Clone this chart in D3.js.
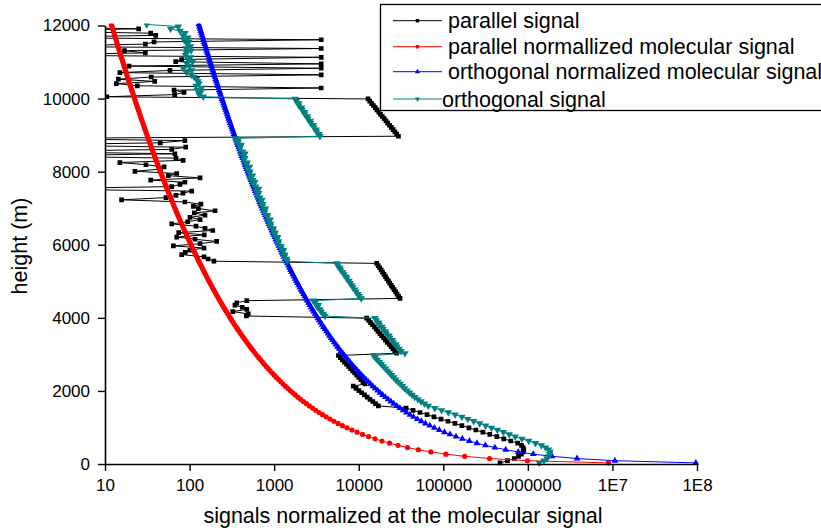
<!DOCTYPE html>
<html>
<head>
<meta charset="utf-8">
<script src="https://cdn.jsdelivr.net/npm/d3@7"></script>
<style>
  html, body { margin: 0; padding: 0; background: #ffffff; }
  svg { display: block; font-family: "Liberation Sans", Arial, Helvetica, sans-serif; }
</style>
</head>
<body>
<svg id="chart" width="821" height="532"></svg>
<script>
// Lidar range bins (m), 60 m resolution, 30 m .. 12030 m
const heights = d3.range(30, 12031, 60);

// Parallel channel, normalized at the molecular signal (bin order: low to high)
const parallelSignal = [
  468000, 575000, 692000, 776000, 841000, 881000, 895000, 881000, 841000, 758600,
  628100, 518800, 429500, 354800, 293800, 242700, 200900, 166000, 137400, 113500,
  94000, 77600, 64300, 53100, 43900, 36300,
  17060, 15810, 14660, 13580, 12590, 11700, 10840, 10050, 9310, 8630,
  11860, 11220, 10620, 10020, 9480, 8970, 8490, 8020, 7590, 7180, 6790, 6410, 6070, 5740,
  28100, 26700, 25400, 24200, 23000, 21800, 20700, 19700, 18700, 17800, 16900, 16100, 15300, 14500, 13800, 13100, 12400,
  470, 494, 324, 475, 420, 344, 361, 475,
  30800, 29600, 28400, 27400, 26200, 25200, 24300, 23300, 22400, 21500, 20700, 19900, 19100, 18400, 17700, 17000, 16300,
  194, 166, 148, 80.7, 89, 101, 148, 64.3, 133, 209,
  116, 70.5, 149, 74.3, 188, 152, 119, 61.5, 95, 133,
  101, 152, 114, 200, 127, 111, 136, 88, 15.7, 52.6,
  69, 83.6, 106, 1, 61.5, 77, 88, 34.7, 133, 56,
  70.5, 22.6, 45, 50, 30.5, 15, 84, 69, 1, 67,
  1, 61.5, 90, 1, 45, 88, 1,
  29500, 28100, 26800, 25500, 24300, 23100, 22000, 21000, 20000, 19000, 18100, 17300, 16400, 15700, 14900, 14200, 13500, 12900,
  10.5, 66.7, 86, 65.5, 3600, 24.1, 13.6, 38.7, 14.4, 35.2,
  3600, 15, 58.7, 3600, 19.2, 3600, 68.5, 80.7, 3600, 1,
  30, 17, 3600, 1, 30, 38, 3600, 1, 39.8, 34.7,
  1, 25, 1, 1
];

// Parallel normalized molecular signal
const parallelMolecular = [
  8.97e6, 9.88e5, 3.53e5, 1.788e5, 1.073e5, 71300, 50700, 37750, 29160, 23170,
  18820, 15570, 13070, 11120, 9570, 8310, 7275, 6420, 5699, 5091,
  4570, 4123, 3736, 3398, 3102, 2842, 2611, 2406, 2223, 2059,
  1911, 1778, 1658, 1548, 1448, 1357, 1274, 1198, 1128, 1063,
  1003, 948.3, 897.4, 849.9, 805.8, 765.0, 726.8, 691.2, 657.9, 626.7,
  597.5, 570.1, 544.4, 520.2, 497.4, 475.9, 455.7, 436.5, 418.5, 401.4,
  385.3, 370.0, 355.5, 341.8, 328.7, 316.3, 304.5, 293.3, 282.6, 272.4,
  262.7, 253.4, 244.5, 236.1, 228.0, 220.3, 212.9, 205.9, 199.2, 192.7,
  186.5, 180.6, 174.9, 169.3, 164.1, 159.0, 154.2, 149.5, 145.0, 140.7,
  136.6, 132.6, 128.7, 125.0, 121.5, 118.0, 114.7, 111.5, 108.4, 105.4,
  102.5, 99.74, 97.06, 94.46, 91.94, 89.51, 87.16, 84.89, 82.69, 80.56,
  78.50, 76.50, 74.57, 72.70, 70.89, 69.13, 67.43, 65.78, 64.18, 62.62,
  61.11, 59.65, 58.23, 56.85, 55.51, 54.21, 52.94, 51.71, 50.52, 49.36,
  48.23, 47.13, 46.07, 45.03, 44.02, 43.04, 42.09, 41.16, 40.25, 39.37,
  38.52, 37.68, 36.87, 36.08, 35.31, 34.56, 33.83, 33.11, 32.42, 31.74,
  31.08, 30.43, 29.81, 29.19, 28.59, 28.01, 27.44, 26.88, 26.34, 25.81,
  25.29, 24.79, 24.30, 23.82, 23.35, 22.89, 22.44, 22.00, 21.58, 21.16,
  20.75, 20.35, 19.96, 19.58, 19.20, 18.84, 18.48, 18.14, 17.80, 17.46,
  17.14, 16.82, 16.51, 16.20, 15.90, 15.61, 15.32, 15.05, 14.77, 14.50,
  14.24, 13.99, 13.73, 13.49, 13.25, 13.01, 12.78, 12.56, 12.33, 12.12,
  11.90
];

// Orthogonal normalized molecular signal
const orthogonalMolecular = [
  9.68e7, 1.068e7, 3.814e6, 1.931e6, 1.159e6, 7.70e5, 5.47e5, 4.077e5, 3.150e5, 2.502e5,
  2.033e5, 1.681e5, 1.412e5, 1.201e5, 1.033e5, 89740, 78580, 69320, 61550, 54970,
  49350, 44530, 40350, 36690, 33500, 30690, 28200, 25980, 24010, 22240,
  20640, 19200, 17900, 16720, 15640, 14660, 13760, 12940, 12180, 11480,
  10830, 10240, 9689, 9178, 8702, 8261, 7849, 7464, 7105, 6768,
  6452, 6156, 5878, 5617, 5371, 5139, 4920, 4714, 4519, 4335,
  4160, 3995, 3839, 3690, 3549, 3415, 3288, 3167, 3051, 2941,
  2836, 2736, 2641, 2550, 2463, 2379, 2300, 2224, 2151, 2081,
  2014, 1950, 1888, 1829, 1772, 1718, 1665, 1615, 1566, 1520,
  1475, 1432, 1390, 1350, 1312, 1274, 1238, 1204, 1171, 1138,
  1107, 1077, 1048, 1020, 993.0, 966.7, 941.3, 916.7, 893.0, 870.0,
  847.8, 826.2, 805.4, 785.1, 765.6, 746.6, 728.2, 710.4, 693.1, 676.3,
  660.0, 644.2, 628.8, 613.9, 599.4, 585.4, 571.7, 558.4, 545.6, 533.0,
  520.8, 509.0, 497.5, 486.3, 475.4, 464.8, 454.5, 444.5, 434.7, 425.2,
  415.9, 406.9, 398.1, 389.6, 381.3, 373.2, 365.3, 357.6, 350.1, 342.7,
  335.6, 328.6, 321.8, 315.2, 308.7, 302.4, 296.3, 290.3, 284.4, 278.7,
  273.2, 267.7, 262.4, 257.2, 252.2, 247.2, 242.3, 237.6, 233.0, 228.5,
  224.0, 219.8, 215.5, 211.4, 207.4, 203.5, 199.6, 195.9, 192.2, 188.6,
  185.1, 181.6, 178.3, 175.0, 171.8, 168.6, 165.5, 162.5, 159.5, 156.6,
  153.8, 151.0, 148.3, 145.7, 143.1, 140.5, 138.0, 135.6, 133.2, 130.8,
  128.5
];

// Orthogonal channel, normalized at the molecular signal
const orthogonalSignal = [
  1.365e6, 1.549e6, 1.679e6, 1.758e6, 1.811e6, 1.828e6, 1.758e6, 1.622e6, 1.445e6, 1.230e6,
  1.023e6, 851000, 708000, 603000, 513000, 437000, 372000, 316000, 269000, 229000,
  195000, 166000, 138000, 114800, 95500, 79400,
  66530, 59980, 54580, 50120, 46130, 42850, 39900, 37330, 34910, 32810,
  30900, 29040, 27420, 25880, 24490, 23120, 21880, 20700, 19590, 18540, 17580, 16600, 15700, 14890,
  35240, 31620, 30060, 28310, 27420, 25700, 25000, 23330, 22800, 21130, 20750, 19410, 18840, 17580, 17220, 16140, 15600,
  3990, 3810, 3600, 3480, 3250, 3330, 3050, 2900,
  10720, 10120, 9770, 9290, 9020, 8510, 8280, 7910, 7670, 7210, 7110, 6700, 6460, 6100, 6000, 5650, 5500,
  1418, 1404, 1325, 1338, 1263, 1288, 1206, 1206, 1118, 1131,
  1079, 1102, 1013, 1025, 970, 981, 902, 914, 865, 901,
  830, 832, 766, 776, 786, 725, 735, 697, 719, 676,
  635, 657, 617, 656, 606, 570, 589, 560, 526, 555,
  512, 515, 485, 511, 473, 480, 439, 451, 428, 452,
  426, 390, 397, 407, 373, 375, 350,
  3480, 3390, 3180, 3140, 2940, 2900, 2700, 2680, 2500, 2470, 2300, 2290, 2140, 2110, 1960, 1950, 1830, 1770,
  145.2, 129.2, 135.5, 123.3, 139, 119.1, 129.2, 125.9, 120.8, 112.7,
  104.7, 92.5, 106, 84.3, 99.8, 93.3, 108.4, 95.7, 102.6, 89.6,
  92, 104, 90.8, 102.6, 93.3, 98.4, 85.9, 95.7, 83.6, 88.3,
  77.1, 59.6, 73.6, 31.1
];

const xTickValues = [10, 100, 1000, 10000, 100000, 1000000, 1e7, 1e8];
const xTickLabels = ["10", "100", "1000", "10000", "100000", "1000000", "1E7", "1E8"];
const yTickValues = [0, 2000, 4000, 6000, 8000, 10000, 12000];
const yTickLabels = ["0", "2000", "4000", "6000", "8000", "10000", "12000"];
const yMinorTicks = [1000, 3000, 5000, 7000, 9000, 11000];

const seriesNames = [
  "parallel signal",
  "parallel normallized molecular signal",
  "orthogonal normalized molecular signal",
  "orthogonal signal"
];

const series = [
  { name: seriesNames[0], values: parallelSignal, color: "#000000", symbol: d3.symbolSquare, size: 22, rotate: 0 },
  { name: seriesNames[1], values: parallelMolecular, color: "#ff0000", symbol: d3.symbolCircle, size: 21, rotate: 0 },
  { name: seriesNames[2], values: orthogonalMolecular, color: "#0000ff", symbol: d3.symbolTriangle, size: 20, rotate: 0 },
  { name: seriesNames[3], values: orthogonalSignal, color: "#008080", symbol: d3.symbolTriangle, size: 24, rotate: 180 }
];

const svg = d3.select("#chart");
const plot = { left: 105, right: 697, top: 25.5, bottom: 464 };

const x = d3.scaleLog().domain([10, 1e8]).range([plot.left, plot.right]);
const y = d3.scaleLinear().domain([0, 12000]).range([plot.bottom, plot.top]);

svg.append("defs").append("clipPath").attr("id", "plot-clip")
  .append("rect")
  .attr("x", plot.left)
  .attr("y", plot.top - 2)
  .attr("width", plot.right - plot.left + 6)
  .attr("height", plot.bottom - plot.top + 4.5);

const dataLayer = svg.append("g").attr("clip-path", "url(#plot-clip)");

const line = d3.line()
  .x(d => x(d.v))
  .y(d => y(d.h));

series.forEach(s => {
  const pts = heights.map((h, i) => ({ h: h, v: s.values[i] }));
  const g = dataLayer.append("g");
  g.append("path")
    .datum(pts)
    .attr("d", line)
    .attr("fill", "none")
    .attr("stroke", s.color)
    .attr("stroke-width", 1);
  const sym = d3.symbol().type(s.symbol).size(s.size);
  g.selectAll("path.mk")
    .data(pts)
    .join("path")
    .attr("class", "mk")
    .attr("d", sym)
    .attr("transform", d => `translate(${x(d.v)},${y(d.h)}) rotate(${s.rotate})`)
    .attr("fill", s.color)
    .attr("stroke", "none");
});

// Axes
const axisFont = 17;
const xMinorTicks = x.ticks().filter(v => xTickValues.indexOf(v) < 0);

const xAxisG = svg.append("g").attr("transform", `translate(0,${plot.bottom})`);
xAxisG.call(
  d3.axisBottom(x).tickValues(xMinorTicks).tickSize(4).tickSizeOuter(0).tickFormat("")
);
xAxisG.call(
  d3.axisBottom(x).tickValues(xTickValues).tickSize(7).tickSizeOuter(0).tickPadding(8)
    .tickFormat(d => xTickLabels[xTickValues.indexOf(d)])
);

const yAxisG = svg.append("g").attr("transform", `translate(${plot.left},0)`);
yAxisG.call(
  d3.axisLeft(y).tickValues(yMinorTicks).tickSize(4).tickSizeOuter(0).tickFormat("")
);
yAxisG.call(
  d3.axisLeft(y).tickValues(yTickValues).tickSize(7).tickSizeOuter(0).tickPadding(8)
    .tickFormat(d => yTickLabels[yTickValues.indexOf(d)])
);

svg.selectAll(".domain").attr("stroke", "#000").attr("stroke-width", 1.6);
svg.selectAll(".tick line").attr("stroke", "#000").attr("stroke-width", 1.4);
svg.selectAll(".tick text")
  .attr("fill", "#000")
  .style("font-family", "'Liberation Sans', Arial, sans-serif")
  .style("font-size", axisFont + "px");

// Axis titles
svg.append("text")
  .attr("x", 403)
  .attr("y", 523)
  .attr("text-anchor", "middle")
  .style("font-size", "21.5px")
  .attr("fill", "#000")
  .text("signals normalized at the molecular signal");

svg.append("text")
  .attr("transform", "translate(27,246) rotate(-90)")
  .attr("text-anchor", "middle")
  .style("font-size", "21.5px")
  .attr("fill", "#000")
  .text("height (m)");

// Legend
const legend = svg.append("g");
legend.append("rect")
  .attr("x", 380.5)
  .attr("y", 4.5)
  .attr("width", 470)
  .attr("height", 106)
  .attr("fill", "#ffffff")
  .attr("stroke", "#000")
  .attr("stroke-width", 1.3);

const legendRows = [20.7, 46.7, 71.7, 99];
const legendTextX = [448, 448, 448, 442];
series.forEach((s, i) => {
  const cy = legendRows[i];
  legend.append("line")
    .attr("x1", 393).attr("x2", 442)
    .attr("y1", cy).attr("y2", cy)
    .attr("stroke", s.color)
    .attr("stroke-width", 1);
  legend.append("path")
    .attr("d", d3.symbol().type(s.symbol).size(12)())
    .attr("transform", `translate(417.5,${cy}) rotate(${s.rotate})`)
    .attr("fill", s.color);
  legend.append("text")
    .attr("x", legendTextX[i])
    .attr("y", cy)
    .attr("dy", "0.36em")
    .style("font-size", "21.5px")
    .attr("fill", "#000")
    .text(s.name);
});
</script>
</body>
</html>
